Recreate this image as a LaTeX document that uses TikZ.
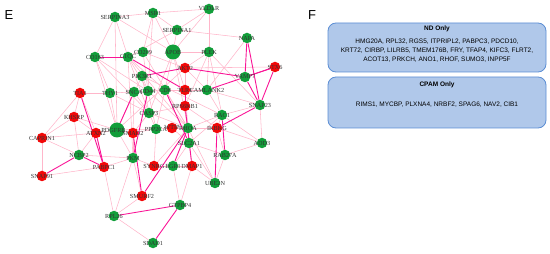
\documentclass[tikz,border=0pt]{standalone}
\usepackage{fontspec}
\setmainfont{Liberation Serif}
\newfontfamily\sansf{Liberation Sans}
\usetikzlibrary{backgrounds}
\definecolor{gnodec}{RGB}{18,158,58}
\definecolor{rnodec}{RGB}{242,8,8}
\definecolor{weakc}{RGB}{255,182,202}
\definecolor{strongc}{RGB}{250,20,150}
\definecolor{boxfill}{RGB}{176,200,234}
\definecolor{boxline}{RGB}{92,142,212}
\tikzset{
	gene/.style = {circle, inner sep=0pt, minimum size=10.5pt},
	gnode/.style = {gene, fill=gnodec},
	rnode/.style = {gene, fill=rnodec},
	gbig/.style = {gnode, minimum size=15pt},
	glabel/.style = {font=\fontsize{6.2}{7}\selectfont, text=black!80, inner sep=0pt},
	weak/.style = {draw=weakc, line width=0.55pt},
	strong/.style = {draw=strongc, line width=0.9pt},
	listbox/.style = {draw=boxline, fill=boxfill, rounded corners=8pt, line width=0.8pt},
	boxtext/.style = {font=\sansf\fontsize{6.5}{9}\selectfont, align=center, inner sep=0pt},
	boxhead/.style = {font=\sansf\bfseries\fontsize{6.5}{8}\selectfont, inner sep=0pt},
	panel/.style = {font=\sansf\fontsize{13}{15}\selectfont, inner sep=0pt}
}
\begin{document}
\begin{tikzpicture}[x=1pt, y=-1pt]
	\useasboundingbox (0,0) rectangle (550,254);
	\node [panel] (labE) at (9,15) {E};
	\node [panel] (labF) at (312,15) {F};
	% network nodes
	\foreach \n/\x/\y/\kind in {SERPINA3/115/17/gnode, MSR1/153/13/gnode, VLDLR/209/9/gnode,
		SERPINA1/177/30/gnode, CD163/95/57/gnode, C1QC/128/57/gnode, CD209/143/52/gnode,
		APOB/173/52/gbig, PLEK/209/52/gnode, NAPA/247/38/gnode, STX6/275/67/rnode,
		AKT2/185/68/rnode, VAMP7/245/77/gnode, PIK3R1/142/76/gnode, TIA1/80/93/rnode,
		THY1/110/93/gnode, SNCA/134/92/gnode, CD44/148/91/gnode, CD8/165/90/gnode,
		TLR1/185/90/rnode, CAMLANK2/207/90/gnode, SNAP23/260/105/gnode, RPS6KB1/185/106/rnode,
		CASP3/149/113/gnode, RAC1/222/115/gnode, KHSRP/74/117/rnode, PDGFRB/117/130/gbig,
		SMAD2/133/133/rnode, PPP2CA/156/129/gnode, WTIP/172/128/rnode, RHOA/188/128/gnode,
		IKBKG/217/128/rnode, ATXN2/96/133/rnode, CAPRIN1/42/138/rnode, SLC2A1/189/143/gnode,
		ADD3/262/143/gnode, NCBP2/79/155/gnode, PKM/133/158/gnode, RAB27A/225/155/gnode,
		PABPC1/104/167/rnode, SYNRG/154/166/rnode, EGR1/173/166/gnode, DMAP1/192/166/rnode,
		SNAP91/42/176/rnode, UBE2N/215/183/gnode, SMURF2/142/196/rnode, GTPBP4/180/205/gnode,
		RPL26/114/216/gnode, SDAD1/153/243/gnode}
		\node [\kind] (\n) at (\x,\y) {};
	\begin{scope}[on background layer]
	\foreach \a/\b in {SERPINA3/MSR1, SERPINA3/CD163, SERPINA3/APOB, SERPINA3/C1QC, MSR1/VLDLR,
		MSR1/APOB, MSR1/CD209, MSR1/SERPINA1, VLDLR/APOB, VLDLR/PLEK, SERPINA1/NAPA, SERPINA1/APOB,
		SERPINA1/C1QC, CD163/CD44, CD163/PDGFRB, CD163/THY1, C1QC/CD44, C1QC/CD8, C1QC/CASP3,
		C1QC/RHOA, C1QC/PKM, CD209/CD44, CD209/AKT2, APOB/PLEK, APOB/CD8, APOB/CASP3, APOB/TLR1,
		APOB/RHOA, PLEK/AKT2, PLEK/RAC1, PLEK/CAMLANK2, PLEK/RPS6KB1, NAPA/CAMLANK2, STX6/AKT2,
		AKT2/RPS6KB1, AKT2/CAMLANK2, AKT2/PDGFRB, PIK3R1/CD44, PIK3R1/PDGFRB, PIK3R1/RAC1,
		PIK3R1/CASP3, TIA1/THY1, TIA1/KHSRP, TIA1/ATXN2, TIA1/CAPRIN1, THY1/SNCA, THY1/PDGFRB,
		SNCA/CD44, SNCA/CASP3, SNCA/SMAD2, CD44/CD8, CD44/RHOA, CD44/PPP2CA, CD8/TLR1, CD8/RHOA,
		TLR1/CAMLANK2, TLR1/RHOA, CAMLANK2/SNAP23, CAMLANK2/RAC1, SNAP23/ADD3, SNAP23/RAC1,
		RPS6KB1/CASP3, RPS6KB1/RHOA, RPS6KB1/SLC2A1, RPS6KB1/IKBKG, CASP3/PPP2CA, CASP3/RHOA,
		CASP3/SMAD2, RAC1/IKBKG, RAC1/RHOA, RAC1/ADD3, RAC1/SLC2A1, KHSRP/CAPRIN1, KHSRP/ATXN2,
		KHSRP/NCBP2, KHSRP/PDGFRB, PDGFRB/SMAD2, PDGFRB/ATXN2, PDGFRB/PKM, PDGFRB/PPP2CA,
		SMAD2/PPP2CA, SMAD2/PKM, PPP2CA/WTIP, WTIP/RHOA, RHOA/SLC2A1, RHOA/IKBKG, IKBKG/ADD3,
		IKBKG/RAB27A, ATXN2/CAPRIN1, ATXN2/NCBP2, CAPRIN1/NCBP2, CAPRIN1/SNAP91, SLC2A1/DMAP1,
		SLC2A1/EGR1, SLC2A1/RAB27A, ADD3/RAB27A, NCBP2/PKM, PKM/SYNRG, PKM/PABPC1, PKM/SMURF2,
		RAB27A/UBE2N, PABPC1/SNAP91, PABPC1/RPL26, SYNRG/EGR1, EGR1/DMAP1, DMAP1/UBE2N,
		EGR1/GTPBP4, UBE2N/SLC2A1, UBE2N/RHOA, GTPBP4/DMAP1, RPL26/SMURF2, RPL26/SDAD1,
		RPL26/PKM, CD163/CASP3, SERPINA3/PDGFRB, MSR1/CD44, PLEK/SNAP23, VLDLR/SERPINA1,
		THY1/CASP3, CD8/PPP2CA, WTIP/SLC2A1, SYNRG/RHOA, PPP2CA/SYNRG, CD209/RHOA}
		\draw [weak] (\a) -- (\b);
	\foreach \a/\b in {CD163/C1QC, C1QC/TLR1, NAPA/VAMP7, NAPA/SNAP23, STX6/VAMP7, STX6/SNAP23,
		STX6/CAMLANK2, VAMP7/SNAP23, VAMP7/AKT2, AKT2/PIK3R1, TLR1/RPS6KB1, TIA1/PABPC1,
		ATXN2/PABPC1, NCBP2/PABPC1, SNAP91/NCBP2, SNCA/PDGFRB, CD44/PKM, SNAP23/IKBKG,
		UBE2N/IKBKG, SMURF2/SMAD2, SMURF2/RHOA, RPL26/GTPBP4, GTPBP4/SDAD1, EGR1/RHOA,
		DMAP1/RPS6KB1, CD8/SLC2A1, RAC1/RAB27A}
		\draw [strong] (\a) -- (\b);
	\end{scope}
	% gene names on top
	\foreach \n in {SERPINA3, MSR1, VLDLR, SERPINA1, CD163, C1QC, CD209, APOB, PLEK, NAPA, STX6,
		AKT2, VAMP7, PIK3R1, TIA1, THY1, SNCA, CD44, CD8, TLR1, CAMLANK2, SNAP23, RPS6KB1, CASP3,
		RAC1, KHSRP, SMAD2, PPP2CA, WTIP, RHOA, IKBKG, ATXN2, CAPRIN1, SLC2A1, ADD3, NCBP2,
		PKM, RAB27A, PABPC1, SYNRG, EGR1, DMAP1, SNAP91, UBE2N, SMURF2, GTPBP4, RPL26, SDAD1}
		\node [glabel] (\n-txt) at (\n) {\n};
	\node [glabel, xshift=-3.5pt] (PDGFRB-txt) at (PDGFRB) {PDGFRB};
	% gene lists
	\draw [listbox] (328,23) rectangle (546,72);
	\node [boxhead] (ndhead) at (437,29) {ND Only};
	\node [boxtext] (ndlist) at (437,51) {HMG20A, RPL32, RGS5, ITPRIPL2, PABPC3, PDCD10,\\
		KRT72, CIRBP, LILRB5, TMEM176B, FRY, TFAP4, KIFC3, FLRT2,\\
		ACOT13, PRKCH, ANO1, RHOF, SUMO3, INPP5F};
	\draw [listbox] (328,77) rectangle (546,128);
	\node [boxhead] (cpamhead) at (437,85) {CPAM Only};
	\node [boxtext] (cpamlist) at (437,105) {RIMS1, MYCBP, PLXNA4, NRBF2, SPAG6, NAV2, CIB1};
\end{tikzpicture}
\end{document}
